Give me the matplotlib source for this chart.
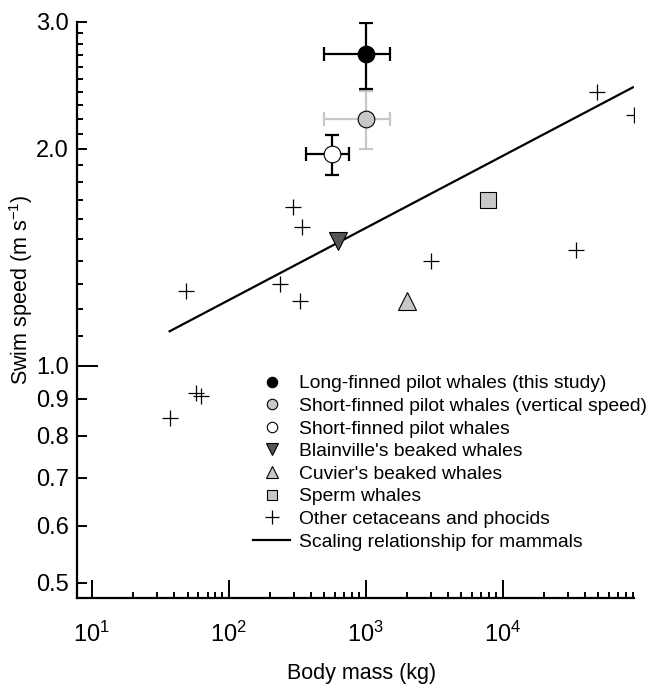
import numpy as np
import matplotlib
matplotlib.use("Agg")
import matplotlib.pyplot as plt
from matplotlib.lines import Line2D


# CONFIG
plt.rcParams["font.family"] = ["Liberation Sans", "DejaVu Sans"]
plt.rcParams["mathtext.fontset"] = "custom"
plt.rcParams["mathtext.rm"] = "Liberation Sans"
plt.rcParams["mathtext.it"] = "Liberation Sans:italic"

LIGHT = "#c8c8c8"
DARK = "#555555"

# DATA
# long-finned pilot whales (this study): mass, speed, mass range, speed range
lf_mass = [1000]
lf_speed = [2.71]
lf_mass_lo = [493]
lf_mass_hi = [1496]
lf_speed_lo = [2.42]
lf_speed_hi = [2.99]

# short-finned pilot whales (vertical speed)
sfv_mass = [1000]
sfv_speed = [2.20]
sfv_mass_lo = [493]
sfv_mass_hi = [1496]
sfv_speed_lo = [2.00]
sfv_speed_hi = [2.41]

# short-finned pilot whales
sf_mass = [563]
sf_speed = [1.97]
sf_mass_lo = [369]
sf_mass_hi = [755]
sf_speed_lo = [1.84]
sf_speed_hi = [2.09]

blainville_mass = [628]
blainville_speed = [1.49]

cuvier_mass = [2000]
cuvier_speed = [1.23]

sperm_mass = [7810]
sperm_speed = [1.70]

other_mass = [49100, 90400, 34100, 2980, 294, 340, 48.5, 238, 330, 58, 63, 37]
other_speed = [2.40, 2.23, 1.45, 1.40, 1.66, 1.56, 1.27, 1.30, 1.23, 0.918, 0.908, 0.848]

scaling_mass = [37, 89400]
scaling_speed = [1.117, 2.435]

y_major = [0.5, 0.6, 0.7, 0.8, 0.9, 1.0, 2.0, 3.0]
y_labels = ["0.5", "0.6", "0.7", "0.8", "0.9", "1.0", "2.0", "3.0"]
y_minor = [1.1, 1.2, 1.3, 1.4, 1.5, 1.6, 1.7, 1.8, 1.9,
           2.1, 2.2, 2.3, 2.4, 2.5, 2.6, 2.7, 2.8, 2.9]
x_major = [1e1, 1e2, 1e3, 1e4]
x_labels = [r"$\mathregular{10^{1}}$", r"$\mathregular{10^{2}}$",
            r"$\mathregular{10^{3}}$", r"$\mathregular{10^{4}}$"]
x_minor = [m * 10 ** e for e in range(1, 5) for m in range(2, 10)]

legend_labels = [
    "Long-finned pilot whales (this study)",
    "Short-finned pilot whales (vertical speed)",
    "Short-finned pilot whales",
    "Blainville's beaked whales",
    "Cuvier's beaked whales",
    "Sperm whales",
    "Other cetaceans and phocids",
    "Scaling relationship for mammals",
]


def err(val, lo, hi):
    v = np.array(val)
    return [v - np.array(lo), np.array(hi) - v]


def main():
    fig = plt.figure(figsize=(6.64, 6.85), dpi=100)
    ax = fig.add_axes([77 / 664, 1 - 598 / 685, 557 / 664, 576 / 685])
    ax.set_xscale("log")
    ax.set_yscale("log")

    # scaling line
    ax.plot(scaling_mass, scaling_speed, color="black", linewidth=1.6, zorder=2)

    # other species
    ax.plot(other_mass, other_speed, linestyle="none", marker="+",
            markersize=12, markeredgewidth=0.9, color="black", zorder=3)

    # error bars
    ax.errorbar(sfv_mass, sfv_speed, xerr=err(sfv_mass, sfv_mass_lo, sfv_mass_hi),
                yerr=err(sfv_speed, sfv_speed_lo, sfv_speed_hi),
                fmt="none", ecolor=LIGHT, elinewidth=1.6, capsize=5, capthick=1.6, zorder=3)
    ax.errorbar(lf_mass, lf_speed, xerr=err(lf_mass, lf_mass_lo, lf_mass_hi),
                yerr=err(lf_speed, lf_speed_lo, lf_speed_hi),
                fmt="none", ecolor="black", elinewidth=1.6, capsize=5, capthick=1.6, zorder=4)
    ax.errorbar(sf_mass, sf_speed, xerr=err(sf_mass, sf_mass_lo, sf_mass_hi),
                yerr=err(sf_speed, sf_speed_lo, sf_speed_hi),
                fmt="none", ecolor="black", elinewidth=1.6, capsize=5, capthick=1.6, zorder=4)

    # species markers
    ax.plot(lf_mass, lf_speed, "o", markersize=12, markerfacecolor="black",
            markeredgecolor="black", markeredgewidth=0.8, zorder=5)
    ax.plot(sfv_mass, sfv_speed, "o", markersize=12, markerfacecolor=LIGHT,
            markeredgecolor="black", markeredgewidth=0.8, zorder=5)
    ax.plot(sf_mass, sf_speed, "o", markersize=12, markerfacecolor="white",
            markeredgecolor="black", markeredgewidth=0.8, zorder=5)
    ax.plot(blainville_mass, blainville_speed, "v", markersize=13, markerfacecolor=DARK,
            markeredgecolor="black", markeredgewidth=0.8, zorder=5)
    ax.plot(cuvier_mass, cuvier_speed, "^", markersize=13, markerfacecolor=LIGHT,
            markeredgecolor="black", markeredgewidth=0.8, zorder=5)
    ax.plot(sperm_mass, sperm_speed, "s", markersize=11.5, markerfacecolor=LIGHT,
            markeredgecolor="black", markeredgewidth=0.8, zorder=5)

    ax.set_xlim(7.8, 9.1e4)
    ax.set_ylim(0.4765, 3.0)

    # spines and ticks
    for side in ["top", "right"]:
        ax.spines[side].set_visible(False)
    for side in ["left", "bottom"]:
        ax.spines[side].set_linewidth(1.6)

    ax.set_yticks(y_major)
    ax.set_yticklabels(y_labels)
    ax.set_yticks(y_minor, minor=True)
    ax.set_xticks(x_major)
    ax.set_xticklabels(x_labels)
    ax.set_xticks(x_minor, minor=True)

    ax.tick_params(axis="both", which="both", direction="in", width=1.4,
                   labelsize=17, colors="black")
    ax.tick_params(axis="y", which="major", length=7.5, pad=6)
    ax.tick_params(axis="y", which="minor", length=4, labelleft=False)
    ax.tick_params(axis="x", which="major", length=13, pad=17)
    ax.tick_params(axis="x", which="minor", length=4.5, labelbottom=False)

    # the 1.0 tick is longer
    for tick, val in zip(ax.yaxis.get_major_ticks(), y_major):
        if val == 1.0:
            tick.tick1line.set_markersize(15)

    ax.set_xlabel("Body mass (kg)", fontsize=15.5)
    ax.xaxis.set_label_coords(0.51, -0.113)
    ax.set_ylabel(r"Swim speed (m s$^{\mathregular{-1}}$)", fontsize=15.5)
    ax.yaxis.set_label_coords(-0.076, 0.535)

    # legend
    handles = [
        Line2D([], [], linestyle="none", marker="o", markersize=7.5,
               markerfacecolor="black", markeredgecolor="black", markeredgewidth=0.8),
        Line2D([], [], linestyle="none", marker="o", markersize=7.5,
               markerfacecolor=LIGHT, markeredgecolor="black", markeredgewidth=0.8),
        Line2D([], [], linestyle="none", marker="o", markersize=7.5,
               markerfacecolor="white", markeredgecolor="black", markeredgewidth=0.8),
        Line2D([], [], linestyle="none", marker="v", markersize=9,
               markerfacecolor=DARK, markeredgecolor="black", markeredgewidth=0.8),
        Line2D([], [], linestyle="none", marker="^", markersize=9,
               markerfacecolor=LIGHT, markeredgecolor="black", markeredgewidth=0.8),
        Line2D([], [], linestyle="none", marker="s", markersize=7.5,
               markerfacecolor=LIGHT, markeredgecolor="black", markeredgewidth=0.8),
        Line2D([], [], linestyle="none", marker="+", markersize=9.5,
               markeredgewidth=0.9, color="black"),
        Line2D([], [], color="black", linewidth=1.6),
    ]
    ax.legend(handles, legend_labels, loc="upper left",
              bbox_to_anchor=(0.316, 0.3875), frameon=False, fontsize=13.9,
              handlelength=1.92, handletextpad=0.47, labelspacing=0.264,
              borderpad=0, borderaxespad=0)

    fig.savefig("out.png", dpi=100)
    plt.close(fig)


if __name__ == "__main__":
    main()
